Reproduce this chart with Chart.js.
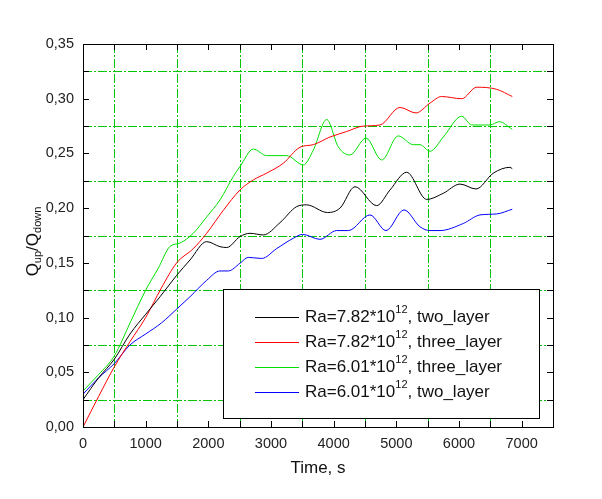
<!DOCTYPE html>
<html>
<head>
<meta charset="utf-8">
<script src="https://cdn.jsdelivr.net/npm/chart.js@4"></script>
<style>
  body { margin: 0; background: #fff; }
  canvas { display: block; }
</style>
</head>
<body>
<canvas id="chart" width="602" height="499"></canvas>
<script>
// series: time (s) and Q_up/Q_down
var blackT = [0, 250, 500, 750, 1000, 1229, 1495, 1707, 1973, 2186, 2293, 2505, 2665, 2877, 3143, 3410, 3569, 3900, 4101, 4340, 4686, 4899, 5165, 5484, 5750, 6016, 6271, 6548, 6813, 6850];
var blackV = [0.025, 0.045, 0.062, 0.085, 0.103, 0.119, 0.1386, 0.1526, 0.1694, 0.1648, 0.164, 0.174, 0.177, 0.1755, 0.1867, 0.2014, 0.203, 0.196, 0.200, 0.2196, 0.2023, 0.2166, 0.2328, 0.208, 0.2136, 0.222, 0.2175, 0.232, 0.2373, 0.236];

var redT = [0, 250, 500, 750, 1000, 1250, 1495, 1760, 1973, 2239, 2505, 2718, 2931, 3196, 3463, 3675, 3941, 4207, 4473, 4739, 5058, 5313, 5537, 5723, 6043, 6282, 6601, 6850];
var redV = [0, 0.028, 0.055, 0.078, 0.100, 0.127, 0.150, 0.163, 0.177, 0.198, 0.2166, 0.2258, 0.232, 0.241, 0.2557, 0.258, 0.265, 0.270, 0.275, 0.276, 0.292, 0.287, 0.296, 0.302, 0.300, 0.3105, 0.3086, 0.302];

var greenT = [0, 250, 500, 750, 1000, 1200, 1388, 1543, 1760, 1973, 2186, 2399, 2505, 2718, 2931, 3250, 3516, 3675, 3888, 4074, 4260, 4516, 4766, 5031, 5271, 5377, 5537, 5750, 6043, 6202, 6494, 6643, 6850];
var greenV = [0.033, 0.048, 0.065, 0.095, 0.125, 0.145, 0.165, 0.168, 0.177, 0.192, 0.2075, 0.229, 0.238, 0.254, 0.248, 0.248, 0.2395, 0.253, 0.281, 0.256, 0.2486, 0.264, 0.244, 0.266, 0.258, 0.258, 0.252, 0.265, 0.284, 0.276, 0.276, 0.279, 0.272];

var blueT = [0, 250, 500, 750, 1000, 1250, 1500, 1707, 1973, 2186, 2319, 2505, 2638, 2851, 3090, 3356, 3505, 3781, 4048, 4234, 4580, 4835, 5122, 5377, 5537, 5697, 6069, 6335, 6601, 6850];
var blueV = [0.030, 0.045, 0.058, 0.075, 0.085, 0.095, 0.108, 0.119, 0.134, 0.1426, 0.1426, 0.1496, 0.155, 0.154, 0.163, 0.1725, 0.176, 0.1715, 0.1795, 0.1795, 0.1938, 0.1795, 0.1984, 0.183, 0.1795, 0.1795, 0.186, 0.1938, 0.1947, 0.199];

var seriesLabels = ['Ra=7.82*10^12, two_layer', 'Ra=7.82*10^12, three_layer', 'Ra=6.01*10^12, three_layer', 'Ra=6.01*10^12, two_layer'];
var seriesColors = ['#000000', '#ff0000', '#00e000', '#0000ff'];

var gridX = [500, 1500, 2500, 3500, 4500, 5500, 6500];
var gridY = [0.025, 0.075, 0.125, 0.175, 0.225, 0.275, 0.325];

var FONT = '"Liberation Sans", Arial, sans-serif';

function pts(t, v) {
    return t.map(function (d, i) { return { x: d, y: v[i] }; });
}

var series = [pts(blackT, blackV), pts(redT, redV), pts(greenT, greenV), pts(blueT, blueV)];

var framePlugin = {
    id: 'frame',
    beforeDatasetsDraw: function (chart) {
        var ctx = chart.ctx, a = chart.chartArea, x = chart.scales.x, y = chart.scales.y;
        ctx.save();
        ctx.strokeStyle = '#00c800';
        ctx.lineWidth = 1;
        ctx.setLineDash([9, 2, 2, 2]);
        gridX.forEach(function (t) {
            var px = Math.round(x.getPixelForValue(t)) + 0.5;
            ctx.beginPath(); ctx.moveTo(px, a.top); ctx.lineTo(px, a.bottom); ctx.stroke();
        });
        gridY.forEach(function (v) {
            var py = Math.round(y.getPixelForValue(v)) + 0.5;
            ctx.beginPath(); ctx.moveTo(a.left, py); ctx.lineTo(a.right, py); ctx.stroke();
        });
        ctx.restore();
    },
    afterDatasetsDraw: function (chart) {
        var ctx = chart.ctx, a = chart.chartArea, x = chart.scales.x, y = chart.scales.y;
        ctx.save();
        // frame
        ctx.strokeStyle = '#000';
        ctx.lineWidth = 1;
        ctx.strokeRect(Math.round(a.left) + 0.5, Math.round(a.top) + 0.5,
            Math.round(a.right - a.left), Math.round(a.bottom - a.top));
        // inward ticks on all sides
        var tl = 6;
        x.ticks.forEach(function (tk) {
            var px = Math.round(x.getPixelForValue(tk.value)) + 0.5;
            ctx.beginPath();
            ctx.moveTo(px, a.bottom); ctx.lineTo(px, a.bottom - tl);
            ctx.moveTo(px, a.top); ctx.lineTo(px, a.top + tl);
            ctx.stroke();
        });
        y.ticks.forEach(function (tk) {
            var py = Math.round(y.getPixelForValue(tk.value)) + 0.5;
            ctx.beginPath();
            ctx.moveTo(a.left, py); ctx.lineTo(a.left + tl, py);
            ctx.moveTo(a.right, py); ctx.lineTo(a.right - tl, py);
            ctx.stroke();
        });

        // legend box
        var lx = a.left + 140, ly = a.top + 245, lw = 316, lh = 129;
        ctx.fillStyle = '#fff';
        ctx.fillRect(lx, ly, lw, lh);
        ctx.strokeRect(lx + 0.5, ly + 0.5, lw, lh);
        ctx.textBaseline = 'middle';
        ctx.textAlign = 'left';
        seriesLabels.forEach(function (lab, i) {
            var ry = ly + 28 + i * 25;
            ctx.strokeStyle = seriesColors[i];
            ctx.beginPath(); ctx.moveTo(lx + 32, ry + 0.5); ctx.lineTo(lx + 76, ry + 0.5); ctx.stroke();
            var parts = lab.split('^');
            var sup = parts[1].slice(0, 2), tail = parts[1].slice(2);
            var tx = lx + 82;
            ctx.fillStyle = '#111';
            ctx.font = '17px ' + FONT;
            ctx.fillText(parts[0], tx, ry);
            tx += ctx.measureText(parts[0]).width;
            ctx.font = '11px ' + FONT;
            ctx.fillText(sup, tx, ry - 7);
            tx += ctx.measureText(sup).width;
            ctx.font = '17px ' + FONT;
            ctx.fillText(tail, tx, ry);
        });

        // axis titles
        ctx.fillStyle = '#111';
        ctx.textAlign = 'center';
        ctx.font = '17px ' + FONT;
        ctx.fillText('Time, s', (a.left + a.right) / 2, a.bottom + 41);

        ctx.translate(33, (a.top + a.bottom) / 2 + 6);
        ctx.rotate(-Math.PI / 2);
        var bits = [['Q', 17, 0], ['up', 11, 5], ['/Q', 17, 0], ['down', 11, 5]];
        var total = 0;
        bits.forEach(function (b) { ctx.font = b[1] + 'px ' + FONT; total += ctx.measureText(b[0]).width; });
        var cx = -total / 2;
        ctx.textAlign = 'left';
        bits.forEach(function (b) {
            ctx.font = b[1] + 'px ' + FONT;
            ctx.fillText(b[0], cx, b[2]);
            cx += ctx.measureText(b[0]).width;
        });
        ctx.restore();
    }
};

var chart = new Chart('chart', {
    type: 'scatter',
    data: {
        datasets: series.map(function (s, i) {
            return {
                label: seriesLabels[i],
                data: s,
                showLine: true,
                borderColor: seriesColors[i],
                borderWidth: 1,
                pointRadius: 0,
                cubicInterpolationMode: 'monotone'
            };
        })
    },
    options: {
        responsive: false,
        animation: false,
        layout: { padding: { top: 44, right: 49, left: 0, bottom: 0 } },
        plugins: {
            legend: { display: false },
            tooltip: { enabled: false }
        },
        scales: {
            x: {
                type: 'linear',
                min: 0,
                max: 7500,
                afterFit: function (s) { s.height = 72; },
                grid: { display: false, drawTicks: false },
                border: { display: false },
                ticks: {
                    stepSize: 500,
                    autoSkip: false,
                    maxRotation: 0,
                    padding: 8,
                    color: '#222',
                    font: { family: FONT, size: 14.5 },
                    callback: function (v) { return v % 1000 === 0 ? String(v) : ''; }
                }
            },
            y: {
                min: 0,
                max: 0.35,
                afterFit: function (s) { s.width = 83; },
                grid: { display: false, drawTicks: false },
                border: { display: false },
                ticks: {
                    stepSize: 0.025,
                    autoSkip: false,
                    padding: 9,
                    color: '#222',
                    font: { family: FONT, size: 14.5 },
                    callback: function (v) {
                        var k = v / 0.05;
                        return Math.abs(k - Math.round(k)) < 1e-6 ? v.toFixed(2).replace('.', ',') : '';
                    }
                }
            }
        }
    },
    plugins: [framePlugin]
});
</script>
</body>
</html>
